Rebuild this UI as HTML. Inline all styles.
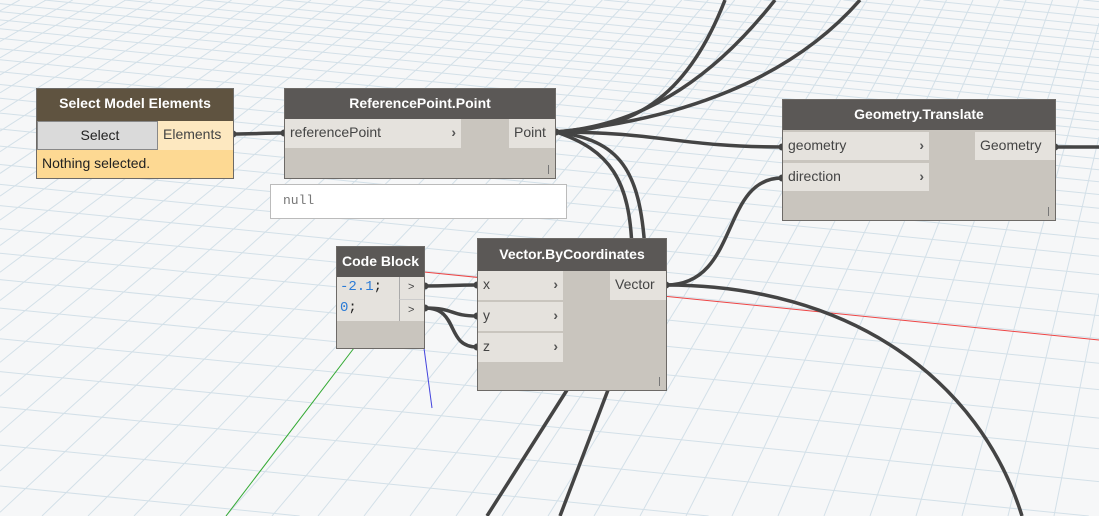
<!DOCTYPE html>
<html style="overflow:hidden;width:1099px;height:516px"><head><meta charset="utf-8"><style>
html,body{margin:0;width:1099px;height:516px;overflow:hidden}
body{background:#f6f7f8;font-family:"Liberation Sans",sans-serif;position:relative}
svg{position:absolute;left:0;top:0;display:block;overflow:hidden}
.n{position:absolute;background:#c9c5be;border:1px solid #6d6a67;box-sizing:border-box}
.h{position:absolute;left:0;right:0;top:0;color:#fff;font-weight:bold;font-size:14px;text-align:center;background:#5b5856}
.r{position:absolute;background:#e5e2dd;font-size:14px;color:#444;box-sizing:border-box;padding-left:5px}
.a{position:absolute;right:5px;top:0;font-weight:bold;color:#555}
.bar{position:absolute;right:6px;bottom:4px;width:1px;height:9px;background:#777}
</style></head><body>
<svg width="1099" height="516" viewBox="0 0 1099 516"><g id="grid" stroke="#d3e0e8" stroke-width="1" fill="none"></g>
<line x1="424" y1="272" x2="1099" y2="340" stroke="#e44" stroke-width="1"/>
<line x1="354" y1="348" x2="226" y2="516" stroke="#3a3" stroke-width="1"/>
<line x1="424" y1="348" x2="432" y2="408" stroke="#44d" stroke-width="1"/>
<g stroke="#444" stroke-width="3.5" fill="none">
<path d="M233 134 C255 134 262 133 284 133"/>
<path d="M556 132 C660 132 680 147 782 147"/>
<path d="M556 132 C640 130 690 90 725 0"/>
<path d="M556 132 C650 125 720 70 775 0"/>
<path d="M556 132 C680 120 790 80 860 0"/>
<path d="M556 132 C620 140 640 170 645 250"/>
<path d="M556 132 C610 150 630 180 632 250"/>
<path d="M567 390 L487 516"/>
<path d="M608 390 L560 516"/>
<path d="M1055 147 L1099 147"/>
<path d="M666 285 C740 285 720 178 782 178"/>
<path d="M666 285 C850 285 980 380 1022 516"/>
<path d="M425 286 C450 286 452 285 477 285"/>
<path d="M425 308 C455 308 450 316 477 316"/>
<path d="M425 308 C460 308 445 347 477 347"/>
</g>
<g fill="#444">
<circle cx="233" cy="134" r="3.5"/><circle cx="284" cy="133" r="3.5"/><circle cx="556" cy="132" r="3.5"/>
<circle cx="782" cy="147" r="3.5"/><circle cx="782" cy="178" r="3.5"/><circle cx="666" cy="285" r="3.5"/>
<circle cx="425" cy="286" r="3.5"/><circle cx="425" cy="308" r="3.5"/><circle cx="477" cy="285" r="3.5"/><circle cx="477" cy="316" r="3.5"/><circle cx="477" cy="347" r="3.5"/><circle cx="1055" cy="147" r="3.5"/>
</g>
</svg>
<script>
(function(){var g=document.getElementById('grid'),s='';
function seg(x1,y1,x2,y2){ // clip to box
var t0=0,t1=1,dx=x2-x1,dy=y2-y1,p=[-dx,dx,-dy,dy],q=[x1,1099-x1,y1,516-y1];
for(var i=0;i<4;i++){if(p[i]==0){if(q[i]<0)return;}else{var r=q[i]/p[i];if(p[i]<0){if(r>t1)return;if(r>t0)t0=r;}else{if(r<t0)return;if(r<t1)t1=r;}}}
s+='<path d="M'+(x1+t0*dx).toFixed(1)+' '+(y1+t0*dy).toFixed(1)+' L'+(x1+t1*dx).toFixed(1)+' '+(y1+t1*dy).toFixed(1)+'"/>';}
var y=530,gap=44;
while(y>-160){seg(0,y,1099,y+110);y-=gap;gap*=0.93;if(gap<8)gap=8;}
var vx=1300,vy=-700;
for(var x=-1200;x<1300;x+=46){var t=(516-vy),dx=(vx-x);seg(x,516,x+dx*1.2,516-t*1.2);}
g.innerHTML=s;})();
</script>

<div class="n" style="left:36px;top:88px;width:198px;height:91px;background:#fdd993">
<div class="h" style="height:32px;line-height:28px;background:#5f5340">Select Model Elements</div>
<div class="r" style="left:0;top:32px;width:121px;height:29px;background:#dadada;border:1px solid #888;text-align:center;line-height:27px;color:#222">Select</div>
<div class="r" style="left:121px;top:32px;width:75px;height:29px;background:#fde8c0;line-height:27px">Elements</div>
<div style="position:absolute;left:5px;top:66px;font-size:14px;color:#222">Nothing selected.</div>
</div>

<div class="n" style="left:284px;top:88px;width:272px;height:91px">
<div class="h" style="height:30px;line-height:28px">ReferencePoint.Point</div>
<div class="r" style="left:0;top:30px;width:176px;height:29px;line-height:27px">referencePoint<span class="a">›</span></div>
<div class="r" style="left:224px;top:30px;width:46px;height:29px;line-height:27px">Point</div>
<div class="bar"></div>
</div>
<div style="position:absolute;left:270px;top:184px;width:297px;height:35px;background:#fff;border:1px solid #bbb;box-sizing:border-box;font-family:'Liberation Mono',monospace;font-size:13px;color:#777;padding:8px 12px">null</div>

<div class="n" style="left:782px;top:99px;width:274px;height:122px">
<div class="h" style="height:30px;line-height:28px">Geometry.Translate</div>
<div class="r" style="left:0;top:32px;width:146px;height:28px;line-height:26px">geometry<span class="a">›</span></div>
<div class="r" style="left:0;top:63px;width:146px;height:28px;line-height:26px">direction<span class="a">›</span></div>
<div class="r" style="left:192px;top:32px;width:80px;height:28px;line-height:26px">Geometry</div>
<div class="bar"></div>
</div>

<div class="n" style="left:336px;top:246px;width:89px;height:103px">
<div class="h" style="height:30px;line-height:28px">Code Block</div>
<div class="r" style="left:0;top:30px;width:62px;height:44px;font-family:'Liberation Mono',monospace;font-size:14px;color:#2b7bd6;line-height:21px;padding-left:3px">-2.1<span style="color:#222">;</span><br>0<span style="color:#222">;</span></div>
<div class="r" style="left:62px;top:30px;width:25px;height:22px;border-left:1px solid #aaa;font-size:11px;line-height:20px;padding-left:8px">&gt;</div>
<div class="r" style="left:62px;top:52px;width:25px;height:22px;border-left:1px solid #aaa;border-top:1px solid #ccc;font-size:11px;line-height:20px;padding-left:8px">&gt;</div>
</div>

<div class="n" style="left:477px;top:238px;width:190px;height:153px">
<div class="h" style="height:32px;line-height:30px">Vector.ByCoordinates</div>
<div class="r" style="left:0;top:32px;width:85px;height:29px;line-height:27px">x<span class="a">›</span></div>
<div class="r" style="left:0;top:63px;width:85px;height:29px;line-height:27px">y<span class="a">›</span></div>
<div class="r" style="left:0;top:94px;width:85px;height:29px;line-height:27px">z<span class="a">›</span></div>
<div class="r" style="left:132px;top:32px;width:56px;height:29px;line-height:27px">Vector</div>
<div class="bar"></div>
</div>
</body></html>
